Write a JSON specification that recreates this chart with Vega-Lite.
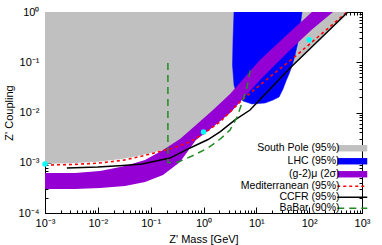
{
  "$schema": "https://vega.github.io/schema/vega-lite/v6.json",
  "width": 317,
  "height": 201,
  "autosize": {"type": "none"},
  "padding": {"left": 45, "top": 12, "right": 20, "bottom": 32},
  "background": "white",
  "config": {
    "view": {"stroke": "black", "strokeWidth": 1},
    "font": "Liberation Sans",
    "axis": {"grid": false, "domainColor": "black", "tickColor": "black", "labelColor": "black", "titleColor": "black", "labelFont": "Liberation Sans", "titleFont": "Liberation Sans", "tickWidth": 1, "domainWidth": 1}
  },
  "datasets": {
    "south": [
      {"series": "South Pole (95%)", "x": 0.001, "y": 0.00096},
      {"series": "South Pole (95%)", "x": 0.003, "y": 0.00098},
      {"series": "South Pole (95%)", "x": 0.01, "y": 0.00105},
      {"series": "South Pole (95%)", "x": 0.03, "y": 0.0012},
      {"series": "South Pole (95%)", "x": 0.069, "y": 0.00142},
      {"series": "South Pole (95%)", "x": 0.232, "y": 0.00195},
      {"series": "South Pole (95%)", "x": 0.556, "y": 0.0027},
      {"series": "South Pole (95%)", "x": 1.0, "y": 0.004},
      {"series": "South Pole (95%)", "x": 2.05, "y": 0.0068},
      {"series": "South Pole (95%)", "x": 3.5, "y": 0.011},
      {"series": "South Pole (95%)", "x": 5.4, "y": 0.0185},
      {"series": "South Pole (95%)", "x": 10, "y": 0.022},
      {"series": "South Pole (95%)", "x": 25, "y": 0.043},
      {"series": "South Pole (95%)", "x": 43.5, "y": 0.079},
      {"series": "South Pole (95%)", "x": 100, "y": 0.184},
      {"series": "South Pole (95%)", "x": 543, "y": 1}
    ],
    "lhc": [
      {"ord": 1, "x": 3.78, "y": 1},
      {"ord": 2, "x": 3.62, "y": 0.277},
      {"ord": 3, "x": 3.54, "y": 0.0881},
      {"ord": 4, "x": 3.78, "y": 0.0353},
      {"ord": 5, "x": 4.31, "y": 0.0223},
      {"ord": 6, "x": 5.6, "y": 0.0169},
      {"ord": 7, "x": 8.28, "y": 0.01476},
      {"ord": 8, "x": 14.6, "y": 0.01545},
      {"ord": 9, "x": 20.7, "y": 0.01774},
      {"ord": 10, "x": 26.9, "y": 0.0203},
      {"ord": 11, "x": 32.0, "y": 0.0294},
      {"ord": 12, "x": 36.5, "y": 0.0424},
      {"ord": 13, "x": 41.6, "y": 0.0584},
      {"ord": 14, "x": 47.3, "y": 0.0842},
      {"ord": 15, "x": 54.0, "y": 0.1395},
      {"ord": 16, "x": 61.5, "y": 0.253},
      {"ord": 17, "x": 67.1, "y": 0.503},
      {"ord": 18, "x": 73.3, "y": 1}
    ],
    "gm2": [
      {"x": 0.001, "lo": 0.0003, "hi": 0.000625},
      {"x": 0.0037, "lo": 0.0003, "hi": 0.000625},
      {"x": 0.011, "lo": 0.000315, "hi": 0.000685},
      {"x": 0.0327, "lo": 0.000344, "hi": 0.00086},
      {"x": 0.0782, "lo": 0.000414, "hi": 0.00113},
      {"x": 0.171, "lo": 0.00057, "hi": 0.00179},
      {"x": 0.359, "lo": 0.001035, "hi": 0.00297},
      {"x": 0.72, "lo": 0.00284, "hi": 0.00564},
      {"x": 1.51, "lo": 0.00515, "hi": 0.0112},
      {"x": 3.18, "lo": 0.00977, "hi": 0.0233},
      {"x": 11.7, "lo": 0.0443, "hi": 0.111},
      {"x": 43.4, "lo": 0.175, "hi": 0.4},
      {"x": 113, "lo": 0.45, "hi": 1},
      {"x": 283, "lo": 1, "hi": 1}
    ],
    "med": [
      {"x": 0.001, "y": 0.0009},
      {"x": 0.003, "y": 0.00092},
      {"x": 0.01, "y": 0.00098},
      {"x": 0.03, "y": 0.00112},
      {"x": 0.069, "y": 0.00136},
      {"x": 0.232, "y": 0.00188},
      {"x": 0.556, "y": 0.0026},
      {"x": 1.0, "y": 0.0038},
      {"x": 2.05, "y": 0.0065},
      {"x": 5.36, "y": 0.0177},
      {"x": 20, "y": 0.056},
      {"x": 49.4, "y": 0.12},
      {"x": 200, "y": 0.42},
      {"x": 520, "y": 1}
    ],
    "ccfr": [
      {"x": 0.0026, "y": 0.00079},
      {"x": 0.01, "y": 0.00082},
      {"x": 0.03, "y": 0.00088},
      {"x": 0.069, "y": 0.00094},
      {"x": 0.232, "y": 0.00124},
      {"x": 0.556, "y": 0.00197},
      {"x": 1.22, "y": 0.0029},
      {"x": 2.05, "y": 0.0041},
      {"x": 3.95, "y": 0.0071},
      {"x": 7.6, "y": 0.0112},
      {"x": 43.5, "y": 0.077},
      {"x": 543, "y": 1}
    ],
    "babar": [
      {"ord": 1, "x": 0.212, "y": 0.097},
      {"ord": 2, "x": 0.212, "y": 0.001},
      {"ord": 3, "x": 0.33, "y": 0.00103},
      {"ord": 4, "x": 0.605, "y": 0.00136},
      {"ord": 5, "x": 1.22, "y": 0.00197},
      {"ord": 6, "x": 2.1, "y": 0.003},
      {"ord": 7, "x": 3.18, "y": 0.00449},
      {"ord": 8, "x": 4.31, "y": 0.0081},
      {"ord": 9, "x": 5.36, "y": 0.0155},
      {"ord": 10, "x": 6.67, "y": 0.0322},
      {"ord": 11, "x": 7.93, "y": 0.084}
    ],
    "dots": [
      {"x": 0.001, "y": 0.00094},
      {"x": 1.0, "y": 0.0041},
      {"x": 100, "y": 0.28}
    ]
  },
  "layer": [
    {
      "data": {"name": "south"},
      "mark": {"type": "area", "clip": true},
      "encoding": {
        "x": {
          "field": "x", "type": "quantitative",
          "scale": {"type": "log", "domain": [0.001, 1000]},
          "axis": {
            "orient": "bottom",
            "values": [0.001,0.002,0.003,0.004,0.005,0.006,0.007,0.008,0.009,0.01,0.02,0.03,0.04,0.05,0.06,0.07,0.08,0.09,0.1,0.2,0.3,0.4,0.5,0.6,0.7,0.8,0.9,1,2,3,4,5,6,7,8,9,10,20,30,40,50,60,70,80,90,100,200,300,400,500,600,700,800,900,1000],
            "labelExpr": "datum.value==0.001?'10⁻³':datum.value==0.01?'10⁻²':datum.value==0.1?'10⁻¹':datum.value==1?'10⁰':datum.value==10?'10¹':datum.value==100?'10²':datum.value==1000?'10³':''",
            "tickSize": {"condition": {"test": "datum.value==0.001||datum.value==0.01||datum.value==0.1||datum.value==1||datum.value==10||datum.value==100||datum.value==1000", "value": -6}, "value": -3},
            "labelPadding": 10,
            "labelFontSize": 11,
            "labelFlush": false,
            "labelOverlap": false,
            "labelBound": false,
            "title": "Z' Mass [GeV]",
            "titleFontSize": 11,
            "titleFontWeight": "normal",
            "titlePadding": 2
          }
        },
        "y": {
          "field": "y", "type": "quantitative",
          "scale": {"type": "log", "domain": [0.0001, 1]},
          "axis": {
            "orient": "left",
            "values": [0.0001,0.0002,0.0003,0.0004,0.0005,0.0006,0.0007,0.0008,0.0009,0.001,0.002,0.003,0.004,0.005,0.006,0.007,0.008,0.009,0.01,0.02,0.03,0.04,0.05,0.06,0.07,0.08,0.09,0.1,0.2,0.3,0.4,0.5,0.6,0.7,0.8,0.9,1],
            "labelExpr": "datum.value==0.0001?'10⁻⁴':datum.value==0.001?'10⁻³':datum.value==0.01?'10⁻²':datum.value==0.1?'10⁻¹':datum.value==1?'10⁰':''",
            "tickSize": {"condition": {"test": "datum.value==0.0001||datum.value==0.001||datum.value==0.01||datum.value==0.1||datum.value==1", "value": -6}, "value": -3},
            "labelPadding": 12,
            "labelFontSize": 11,
            "labelFlush": false,
            "labelOverlap": false,
            "labelBound": false,
            "title": "Z' Coupling",
            "titleFontSize": 11,
            "titleFontWeight": "normal",
            "titlePadding": 4
          }
        },
        "y2": {"datum": 1},
        "color": {
          "field": "series", "type": "nominal",
          "scale": {
            "domain": ["South Pole (95%)", "LHC (95%)", "(g-2)μ (2σ)", "Mediterranean (95%)", "CCFR (95%)", "BaBar (90%)"],
            "range": ["#c0c0c0", "#0000ff", "#9400d3", "#ff0000", "#000000", "#228b22"]
          },
          "legend": {
            "orient": "none",
            "legendX": 292,
            "legendY": 131,
            "title": null,
            "padding": 0,
            "rowPadding": 0,
            "symbolSize": 64,
            "symbolOffset": 10,
            "labelOffset": -18,
            "labelAlign": "right",
            "labelFont": "Liberation Sans",
            "labelFontSize": 10.5,
            "labelColor": "black",
            "labelLimit": 300,
            "encode": {
              "labels": {
                "update": {
                  "lineHeight": {"value": 10.8}
                }
              },
              "symbols": {
                "update": {
                  "shape": {"signal": "indexof(['South Pole (95%)','LHC (95%)','(g-2)μ (2σ)'], datum.value) >= 0 ? 'M-3.75,-0.8H3.75V0.8H-3.75Z' : 'M-3.75,0H3.75'"},
                  "fill": {"signal": "indexof(['South Pole (95%)','LHC (95%)','(g-2)μ (2σ)'], datum.value) >= 0 ? scale('color', datum.value) : 'transparent'"},
                  "stroke": {"signal": "indexof(['South Pole (95%)','LHC (95%)','(g-2)μ (2σ)'], datum.value) >= 0 ? 'transparent' : scale('color', datum.value)"},
                  "strokeDash": {"signal": "datum.value == 'Mediterranean (95%)' ? [3,3] : datum.value == 'BaBar (90%)' ? [7,5] : [1,0]"},
                  "strokeWidth": {"value": 1.5},
                  "opacity": {"value": 1},
                  "fillOpacity": {"value": 1},
                  "size": {"value": 64}
                }
              }
            }
          }
        }
      }
    },
    {
      "data": {"name": "lhc"},
      "mark": {"type": "line", "interpolate": "linear-closed", "fill": "#0000ff", "stroke": "#0000ff", "strokeWidth": 0.5, "clip": true},
      "encoding": {
        "x": {"field": "x", "type": "quantitative", "axis": {"orient": "top", "values": [0.001,0.002,0.003,0.004,0.005,0.006,0.007,0.008,0.009,0.01,0.02,0.03,0.04,0.05,0.06,0.07,0.08,0.09,0.1,0.2,0.3,0.4,0.5,0.6,0.7,0.8,0.9,1,2,3,4,5,6,7,8,9,10,20,30,40,50,60,70,80,90,100,200,300,400,500,600,700,800,900,1000], "labels": false, "title": null, "tickSize": {"condition": {"test": "datum.value==0.001||datum.value==0.01||datum.value==0.1||datum.value==1||datum.value==10||datum.value==100||datum.value==1000", "value": -6}, "value": -3}}},
        "y": {"field": "y", "type": "quantitative", "axis": {"orient": "right", "values": [0.0001,0.0002,0.0003,0.0004,0.0005,0.0006,0.0007,0.0008,0.0009,0.001,0.002,0.003,0.004,0.005,0.006,0.007,0.008,0.009,0.01,0.02,0.03,0.04,0.05,0.06,0.07,0.08,0.09,0.1,0.2,0.3,0.4,0.5,0.6,0.7,0.8,0.9,1], "labels": false, "title": null, "tickSize": {"condition": {"test": "datum.value==0.0001||datum.value==0.001||datum.value==0.01||datum.value==0.1||datum.value==1", "value": -6}, "value": -3}}},
        "order": {"field": "ord", "type": "quantitative"}
      }
    },
    {
      "data": {"name": "gm2"},
      "mark": {"type": "area", "color": "#9400d3", "clip": true},
      "encoding": {
        "x": {"field": "x", "type": "quantitative", "axis": null},
        "y": {"field": "lo", "type": "quantitative", "axis": null},
        "y2": {"field": "hi"}
      }
    },
    {
      "data": {"name": "med"},
      "mark": {"type": "line", "color": "#ff0000", "strokeDash": [3, 3], "strokeWidth": 1.6, "clip": true},
      "encoding": {
        "x": {"field": "x", "type": "quantitative", "axis": null},
        "y": {"field": "y", "type": "quantitative", "axis": null}
      }
    },
    {
      "data": {"name": "ccfr"},
      "mark": {"type": "line", "color": "#000000", "strokeWidth": 1.5, "clip": true},
      "encoding": {
        "x": {"field": "x", "type": "quantitative", "axis": null},
        "y": {"field": "y", "type": "quantitative", "axis": null}
      }
    },
    {
      "data": {"name": "babar"},
      "mark": {"type": "line", "color": "#228b22", "strokeDash": [7, 5], "strokeWidth": 1.5, "clip": true},
      "encoding": {
        "x": {"field": "x", "type": "quantitative", "axis": null},
        "y": {"field": "y", "type": "quantitative", "axis": null},
        "order": {"field": "ord", "type": "quantitative"}
      }
    },
    {
      "data": {"name": "dots"},
      "mark": {"type": "circle", "color": "#00ffff", "size": 30, "opacity": 1},
      "encoding": {
        "x": {"field": "x", "type": "quantitative", "axis": null},
        "y": {"field": "y", "type": "quantitative", "axis": null}
      }
    }
  ],
  "resolve": {"axis": {"x": "independent", "y": "independent"}}
}
